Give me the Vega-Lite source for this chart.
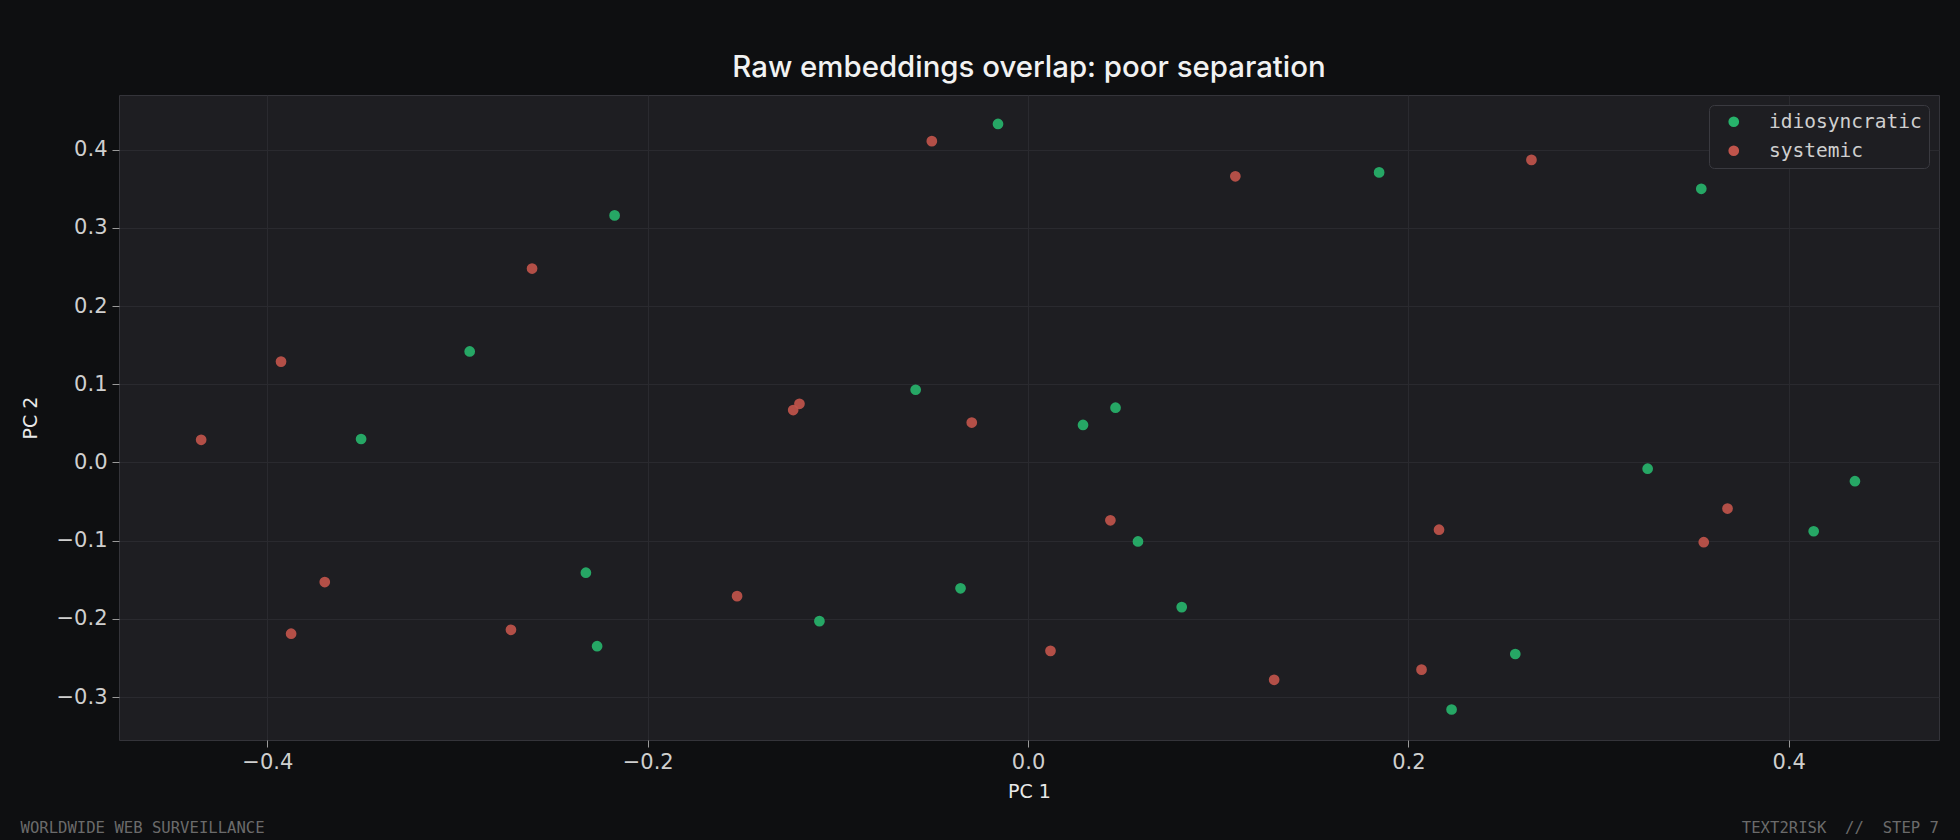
{
  "$schema": "https://vega.github.io/schema/vega-lite/v6.json",
  "background": "#0e0f11",
  "padding": {"left": 20, "top": 52, "right": 21, "bottom": 6},
  "spacing": 18,
  "title": {
    "text": "WORLDWIDE WEB SURVEILLANCE",
    "orient": "bottom",
    "anchor": "start",
    "frame": "bounds",
    "font": "DejaVu Sans Mono",
    "fontSize": 15.6,
    "fontWeight": "normal",
    "color": "#6b6b6b",
    "offset": -15
  },
  "resolve": {"legend": {"color": "independent"}, "scale": {"x": "independent", "color": "independent"}},
  "config": {
    "view": {"fill": "#1e1e22", "stroke": "#34343a", "strokeWidth": 1},
    "axis": {
      "labelFont": "DejaVu Sans",
      "labelFontSize": 21,
      "labelColor": "#cfcfcf",
      "tickColor": "#9a9a9a",
      "tickSize": 7,
      "domain": false,
      "gridColor": "#2a2a2f",
      "gridWidth": 1,
      "titleFont": "DejaVu Sans",
      "titleFontSize": 19,
      "titleFontWeight": "normal",
      "titleColor": "#e8e8e8",
      "labelPadding": 4
    }
  },
  "vconcat": [
    {
      "width": 1820,
      "height": 645,
      "title": {
        "text": "Raw embeddings overlap: poor separation",
        "font": "Inter",
        "fontSize": 29.4,
        "fontWeight": 500,
        "color": "#f2f2f2",
        "anchor": "middle",
        "offset": 12
      },
      "data": {
        "values": [
          {"pc1": -0.0158, "pc2": 0.433, "label": "idiosyncratic"},
          {"pc1": -0.2174, "pc2": 0.316, "label": "idiosyncratic"},
          {"pc1": 0.1846, "pc2": 0.371, "label": "idiosyncratic"},
          {"pc1": 0.354, "pc2": 0.35, "label": "idiosyncratic"},
          {"pc1": -0.2936, "pc2": 0.142, "label": "idiosyncratic"},
          {"pc1": -0.3507, "pc2": 0.03, "label": "idiosyncratic"},
          {"pc1": -0.0591, "pc2": 0.093, "label": "idiosyncratic"},
          {"pc1": 0.046, "pc2": 0.07, "label": "idiosyncratic"},
          {"pc1": 0.0289, "pc2": 0.048, "label": "idiosyncratic"},
          {"pc1": 0.3258, "pc2": -0.008, "label": "idiosyncratic"},
          {"pc1": 0.4348, "pc2": -0.024, "label": "idiosyncratic"},
          {"pc1": 0.4131, "pc2": -0.088, "label": "idiosyncratic"},
          {"pc1": 0.0578, "pc2": -0.101, "label": "idiosyncratic"},
          {"pc1": -0.2325, "pc2": -0.141, "label": "idiosyncratic"},
          {"pc1": -0.0355, "pc2": -0.161, "label": "idiosyncratic"},
          {"pc1": 0.0808, "pc2": -0.185, "label": "idiosyncratic"},
          {"pc1": -0.1097, "pc2": -0.203, "label": "idiosyncratic"},
          {"pc1": -0.2266, "pc2": -0.235, "label": "idiosyncratic"},
          {"pc1": 0.2562, "pc2": -0.245, "label": "idiosyncratic"},
          {"pc1": 0.2227, "pc2": -0.316, "label": "idiosyncratic"},
          {"pc1": -0.0506, "pc2": 0.411, "label": "systemic"},
          {"pc1": 0.109, "pc2": 0.366, "label": "systemic"},
          {"pc1": 0.2647, "pc2": 0.387, "label": "systemic"},
          {"pc1": -0.2608, "pc2": 0.248, "label": "systemic"},
          {"pc1": -0.3928, "pc2": 0.129, "label": "systemic"},
          {"pc1": -0.4348, "pc2": 0.029, "label": "systemic"},
          {"pc1": -0.1202, "pc2": 0.075, "label": "systemic"},
          {"pc1": -0.1235, "pc2": 0.067, "label": "systemic"},
          {"pc1": -0.0296, "pc2": 0.051, "label": "systemic"},
          {"pc1": 0.0433, "pc2": -0.074, "label": "systemic"},
          {"pc1": 0.2161, "pc2": -0.086, "label": "systemic"},
          {"pc1": 0.3678, "pc2": -0.059, "label": "systemic"},
          {"pc1": 0.3553, "pc2": -0.102, "label": "systemic"},
          {"pc1": -0.3698, "pc2": -0.153, "label": "systemic"},
          {"pc1": -0.3875, "pc2": -0.219, "label": "systemic"},
          {"pc1": -0.2719, "pc2": -0.214, "label": "systemic"},
          {"pc1": -0.153, "pc2": -0.171, "label": "systemic"},
          {"pc1": 0.0118, "pc2": -0.241, "label": "systemic"},
          {"pc1": 0.2069, "pc2": -0.265, "label": "systemic"},
          {"pc1": 0.1294, "pc2": -0.278, "label": "systemic"}
        ]
      },
      "mark": {"type": "circle", "size": 115, "opacity": 0.92},
      "encoding": {
        "x": {
          "field": "pc1",
          "type": "quantitative",
          "scale": {"domain": [-0.478, 0.479], "nice": false, "zero": false},
          "axis": {"title": "PC 1", "values": [-0.4, -0.2, 0, 0.2, 0.4], "format": ".1f", "titlePadding": 10}
        },
        "y": {
          "field": "pc2",
          "type": "quantitative",
          "scale": {"domain": [-0.355, 0.47], "nice": false, "zero": false},
          "axis": {"title": "PC 2", "values": [-0.3, -0.2, -0.1, 0, 0.1, 0.2, 0.3, 0.4], "format": ".1f", "titlePadding": 16, "labelPadding": 5}
        },
        "color": {
          "field": "label",
          "type": "nominal",
          "scale": {"domain": ["idiosyncratic", "systemic"], "range": ["#27b36b", "#c0544b"]},
          "legend": {
            "title": null,
            "orient": "top-right",
            "offset": 10,
            "padding": 7,
            "fillColor": "#1e1e22",
            "strokeColor": "#3a3a40",
            "cornerRadius": 5,
            "symbolType": "circle",
            "symbolSize": 115,
            "symbolOpacity": 1,
            "symbolOffset": 8,
            "labelOffset": 25.5,
            "labelFont": "DejaVu Sans Mono",
            "labelFontSize": 19.5,
            "labelColor": "#cfcfcf",
            "rowPadding": 8
          }
        }
      }
    },
    {
      "width": 1820,
      "height": 1,
      "view": {"fill": null, "stroke": null},
      "data": {"values": [{"label": "TEXT2RISK\u00a0\u00a0//\u00a0\u00a0STEP 7"}]},
      "mark": {"type": "text", "align": "right", "baseline": "alphabetic", "font": "DejaVu Sans Mono", "fontSize": 15.6, "color": "#6b6b6b"},
      "encoding": {
        "text": {"field": "label"},
        "x": {"datum": 1, "type": "quantitative", "scale": {"domain": [0, 1], "nice": false, "zero": false}, "axis": null}
      }
    }
  ]
}
